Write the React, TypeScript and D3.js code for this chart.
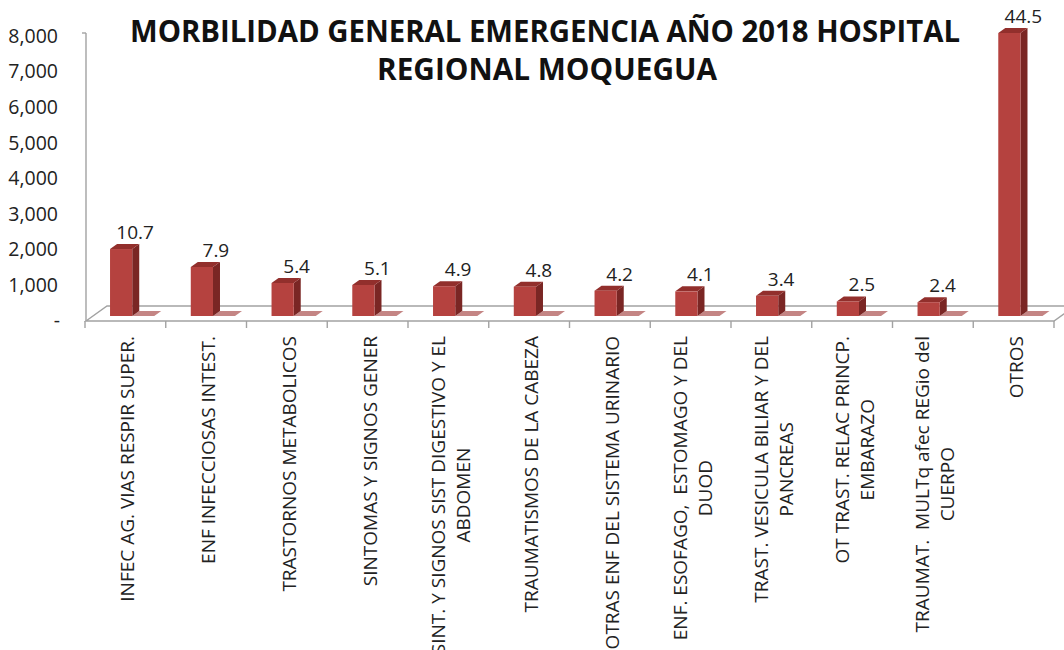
import React, { useEffect, useRef } from "react";
import * as d3 from "d3";

const categories = [
  "INFEC AG. VIAS RESPIR SUPER.",
  "ENF INFECCIOSAS INTEST.",
  "TRASTORNOS METABOLICOS",
  "SINTOMAS Y SIGNOS GENER",
  "SINT. Y SIGNOS SIST DIGESTIVO Y EL\nABDOMEN",
  "TRAUMATISMOS DE LA CABEZA",
  "OTRAS ENF DEL SISTEMA URINARIO",
  "ENF. ESOFAGO,  ESTOMAGO Y DEL\nDUOD",
  "TRAST. VESICULA BILIAR Y DEL\nPANCREAS",
  "OT TRAST. RELAC PRINCP.\nEMBARAZO",
  "TRAUMAT.  MULTq afec REGio del\nCUERPO",
  "OTROS",
];
const counts = [1925, 1420, 970, 915, 880, 865, 755, 735, 610, 450, 430, 8000];
const percents = [10.7, 7.9, 5.4, 5.1, 4.9, 4.8, 4.2, 4.1, 3.4, 2.5, 2.4, 44.5];
const yTicks = [0, 1000, 2000, 3000, 4000, 5000, 6000, 7000, 8000];
const titleLines = ["MORBILIDAD GENERAL EMERGENCIA AÑO 2018 HOSPITAL", "REGIONAL MOQUEGUA"];

const W = 1064;
const H = 650;
const FONT = "'Open Sans', sans-serif";

export default function App() {
  const ref = useRef<SVGSVGElement | null>(null);

  useEffect(() => {
    const svg = d3.select(ref.current);
    svg.selectAll("*").remove();

    const x = d3.scaleBand<string>().domain(categories).range([85, 1054]);
    const y = d3.scaleLinear().domain([0, 8000]).range([320.5, 36]);
    const bw = x.bandwidth();

    const floorY = 321;
    const ddx = 21;
    const ddy = -15;
    const axisColor = "#a2a2a2";

    // floor
    const fl = svg.append("g").attr("fill", "none").attr("stroke", axisColor).attr("stroke-width", 1.4);
    const x0 = x.range()[0] + 1;
    const x1 = x.range()[1];
    fl.append("path").attr(
      "d",
      `M${x0},${floorY}L${x1},${floorY}L${x1 + ddx},${floorY + ddy}L${x0 + ddx},${floorY + ddy}Z`
    );
    // vertical axis
    fl.append("line").attr("x1", x0).attr("x2", x0).attr("y1", y(8000) - 3).attr("y2", floorY);
    fl.append("line").attr("x1", x0 - 4).attr("x2", x0).attr("y1", y(8000) - 3).attr("y2", y(8000) - 3);
    // category ticks
    d3.range(categories.length + 1).forEach((i) => {
      const tx = x.range()[0] + i * bw;
      fl.append("line").attr("x1", tx).attr("x2", tx).attr("y1", floorY).attr("y2", floorY + 7);
    });

    // y tick labels
    const fmt = d3.format(",");
    svg
      .append("g")
      .selectAll("text")
      .data(yTicks)
      .join("text")
      .attr("x", (d) => (d === 0 ? 60 : 58))
      .attr("y", (d) => y(d))
      .attr("dy", "0.35em")
      .attr("text-anchor", "end")
      .attr("font-family", FONT)
      .attr("font-size", 19.5)
      .attr("fill", "#222")
      .text((d) => (d === 0 ? "-" : fmt(d)));

    const depthX = 7;
    const depthY = -5;
    const bottom = 316;

    const bars = svg.append("g");
    categories.forEach((c, i) => {
      const v = counts[i];
      const fx = (x(c) as number) + bw * 0.31;
      const fw = bw * 0.275;
      const top = y(v) - 3;
      const R = fx + fw;
      // shadow
      bars
        .append("path")
        .attr("d", `M${R},${bottom}L${R + 22},${bottom}L${R + 29},${bottom - 5}L${R + 7},${bottom - 5}Z`)
        .attr("fill", "#c48584");
      // side
      bars
        .append("path")
        .attr("d", `M${R},${top}L${R + depthX},${top + depthY}L${R + depthX},${bottom + depthY}L${R},${bottom}Z`)
        .attr("fill", "#7a2624");
      // top
      bars
        .append("path")
        .attr("d", `M${fx},${top}L${fx + depthX},${top + depthY}L${R + depthX},${top + depthY}L${R},${top}Z`)
        .attr("fill", "#922f2c");
      // front
      bars
        .append("rect")
        .attr("x", fx)
        .attr("y", top)
        .attr("width", fw)
        .attr("height", bottom - top)
        .attr("fill", "#b5423f");
      // value label
      bars
        .append("text")
        .attr("x", fx + fw / 2 + 14)
        .attr("y", top - 10)
        .attr("text-anchor", "middle")
        .attr("font-family", FONT)
        .attr("font-size", 19)
        .attr("fill", "#222")
        .text(percents[i].toFixed(1));
    });

    // category labels
    const labelTop = 336;
    categories.forEach((c) => {
      const lines = c.split("\n");
      const cx = (x(c) as number) + bw / 2 + 2;
      const g = svg.append("g").attr("transform", `translate(${cx},${labelTop}) rotate(-90)`);
      const texts = lines.map((ln, j) =>
        g
          .append("text")
          .attr("y", (j - (lines.length - 1) / 2) * 25)
          .attr("dominant-baseline", "central")
          .attr("font-family", FONT)
          .attr("font-size", 19)
          .attr("fill", "#222")
          .style("white-space", "pre")
          .text(ln)
      );
      const lens = texts.map((t) => (t.node() as SVGTextElement).getComputedTextLength());
      const maxLen = d3.max(lens) || 0;
      texts.forEach((t) => t.attr("text-anchor", "middle").attr("x", -maxLen / 2));
    });

    // title
    const tg = svg.append("g").attr("font-family", FONT).attr("font-weight", 700).attr("font-size", 30).attr("fill", "#111");
    tg.append("text").attr("x", 130).attr("y", 42).attr("textLength", 830).attr("lengthAdjust", "spacingAndGlyphs").text(titleLines[0]);
    tg.append("text").attr("x", 377).attr("y", 80).attr("textLength", 340).attr("lengthAdjust", "spacingAndGlyphs").text(titleLines[1]);
  }, []);

  return (
    <svg
      ref={ref}
      width={W}
      height={H}
      style={{ position: "absolute", left: 0, top: 0, background: "#fff" }}
    />
  );
}
